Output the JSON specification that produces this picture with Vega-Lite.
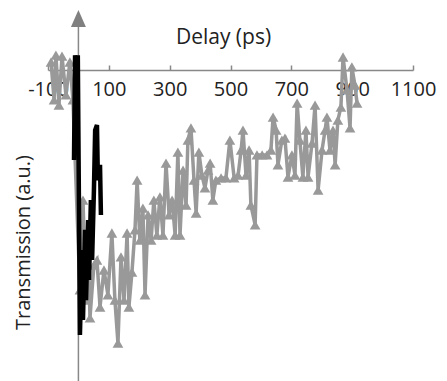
{
  "$schema": "https://vega.github.io/schema/vega-lite/v6.json",
  "width": 365,
  "height": 370,
  "autosize": "none",
  "padding": {"left": 48, "top": 11, "right": 34, "bottom": 0},
  "background": "white",
  "config": {"view": {"stroke": null}},
  "datasets": {
    "gray": [
      {"t": -90, "v": 1.026}, {"t": -80, "v": 0.904}, {"t": -74, "v": 1.048}, {"t": -64, "v": 0.887},
      {"t": -54, "v": 1.045}, {"t": -41, "v": 0.92}, {"t": -28, "v": 1.026}, {"t": -18, "v": 0.904},
      {"t": 5, "v": 0.293}, {"t": 15, "v": 0.582}, {"t": 25, "v": 0.26}, {"t": 32, "v": 0.453},
      {"t": 38, "v": 0.203}, {"t": 51, "v": 0.373}, {"t": 61, "v": 0.389}, {"t": 71, "v": 0.238},
      {"t": 84, "v": 0.357}, {"t": 97, "v": 0.277}, {"t": 110, "v": 0.476}, {"t": 120, "v": 0.26},
      {"t": 130, "v": 0.122}, {"t": 140, "v": 0.399}, {"t": 150, "v": 0.26}, {"t": 160, "v": 0.476},
      {"t": 166, "v": 0.238}, {"t": 176, "v": 0.35}, {"t": 186, "v": 0.486}, {"t": 193, "v": 0.646},
      {"t": 202, "v": 0.453}, {"t": 212, "v": 0.556}, {"t": 219, "v": 0.277}, {"t": 229, "v": 0.534},
      {"t": 239, "v": 0.453}, {"t": 248, "v": 0.582}, {"t": 258, "v": 0.469}, {"t": 268, "v": 0.592},
      {"t": 278, "v": 0.469}, {"t": 288, "v": 0.701}, {"t": 298, "v": 0.534}, {"t": 308, "v": 0.582},
      {"t": 318, "v": 0.469}, {"t": 327, "v": 0.736}, {"t": 334, "v": 0.469}, {"t": 344, "v": 0.678},
      {"t": 354, "v": 0.566}, {"t": 360, "v": 0.775}, {"t": 370, "v": 0.814}, {"t": 380, "v": 0.646},
      {"t": 387, "v": 0.54}, {"t": 396, "v": 0.736}, {"t": 406, "v": 0.662}, {"t": 416, "v": 0.621},
      {"t": 426, "v": 0.678}, {"t": 433, "v": 0.701}, {"t": 442, "v": 0.582}, {"t": 452, "v": 0.646},
      {"t": 469, "v": 0.653}, {"t": 485, "v": 0.653}, {"t": 498, "v": 0.775}, {"t": 512, "v": 0.653},
      {"t": 525, "v": 0.662}, {"t": 535, "v": 0.743}, {"t": 541, "v": 0.807}, {"t": 551, "v": 0.662},
      {"t": 561, "v": 0.743}, {"t": 567, "v": 0.566}, {"t": 581, "v": 0.502}, {"t": 587, "v": 0.727},
      {"t": 604, "v": 0.727}, {"t": 620, "v": 0.727}, {"t": 633, "v": 0.743}, {"t": 640, "v": 0.849},
      {"t": 650, "v": 0.807}, {"t": 656, "v": 0.695}, {"t": 669, "v": 0.775}, {"t": 679, "v": 0.781},
      {"t": 689, "v": 0.656}, {"t": 702, "v": 0.727}, {"t": 712, "v": 0.662}, {"t": 719, "v": 0.894},
      {"t": 728, "v": 0.775}, {"t": 738, "v": 0.656}, {"t": 748, "v": 0.807}, {"t": 755, "v": 0.656},
      {"t": 768, "v": 0.765}, {"t": 778, "v": 0.887}, {"t": 788, "v": 0.614}, {"t": 801, "v": 0.743},
      {"t": 811, "v": 0.807}, {"t": 817, "v": 0.849}, {"t": 827, "v": 0.743}, {"t": 837, "v": 0.807},
      {"t": 844, "v": 0.695}, {"t": 853, "v": 0.839}, {"t": 863, "v": 0.881}, {"t": 870, "v": 1.042},
      {"t": 883, "v": 0.936}, {"t": 893, "v": 0.814}, {"t": 899, "v": 1.01}, {"t": 909, "v": 0.952},
      {"t": 916, "v": 0.894}
    ],
    "black": [
      {"t": -14.5, "v": 0.711}, {"t": -11, "v": 1.048}, {"t": -5, "v": 0.775}, {"t": -2, "v": 1.048},
      {"t": 5, "v": 0.148}, {"t": 12, "v": 0.421}, {"t": 15, "v": 0.196}, {"t": 22, "v": 0.486},
      {"t": 25, "v": 0.26}, {"t": 32, "v": 0.518}, {"t": 35, "v": 0.325}, {"t": 41, "v": 0.582},
      {"t": 45, "v": 0.389}, {"t": 51, "v": 0.614}, {"t": 55, "v": 0.807}, {"t": 61, "v": 0.823},
      {"t": 64, "v": 0.646}, {"t": 71, "v": 0.695}, {"t": 74, "v": 0.534}
    ],
    "one": [{}]
  },
  "layer": [
    {
      "data": {"name": "one"},
      "mark": {"type": "rule", "color": "#888888", "strokeWidth": 1.5},
      "encoding": {
        "x": {"datum": 0, "type": "quantitative"},
        "y": {"datum": 0, "type": "quantitative"},
        "y2": {"datum": 1.16}
      }
    },
    {
      "data": {"name": "gray"},
      "mark": {
        "type": "line", "color": "#999999", "strokeWidth": 3.5,
        "point": {"shape": "triangle-up", "size": 115, "filled": true, "color": "#999999", "opacity": 1}
      },
      "encoding": {
        "x": {
          "field": "t", "type": "quantitative",
          "scale": {"domain": [-100, 1100], "nice": false, "zero": false},
          "axis": {
            "orient": "top", "offset": -59,
            "values": [-100, 100, 300, 500, 700, 900, 1100],
            "labelExpr": "'' + datum.value",
            "title": "Delay (ps)",
            "grid": false,
            "domainColor": "#888888", "domainWidth": 1.5,
            "tickColor": "#888888", "tickWidth": 1.5, "tickSize": 5,
            "labelPadding": -24, "labelBaseline": "middle", "labelDx": 6,
            "labelFont": "Open Sans", "labelFontSize": 20, "labelColor": "#222222",
            "labelFlush": false, "labelOverlap": false,
            "titleFont": "Open Sans", "titleFontSize": 21, "titleFontWeight": "normal", "titleColor": "#222222",
            "titleX": 175, "titleY": -33, "titleBaseline": "middle", "titleAlign": "center"
          }
        },
        "y": {
          "field": "v", "type": "quantitative",
          "scale": {"domain": [0, 1.19], "nice": false, "zero": false},
          "axis": {
            "title": "Transmission (a.u.)",
            "domain": false, "ticks": false, "labels": false, "grid": false,
            "titleFont": "Open Sans", "titleFontSize": 20, "titleFontWeight": "normal", "titleColor": "#222222",
            "titleX": -25, "titleY": 231, "titleAngle": -90, "titleBaseline": "middle", "titleAlign": "center"
          }
        }
      }
    },
    {
      "data": {"name": "black"},
      "mark": {"type": "line", "color": "#000000", "strokeWidth": 4.5},
      "encoding": {
        "x": {"field": "t", "type": "quantitative"},
        "y": {"field": "v", "type": "quantitative"}
      }
    },
    {
      "data": {"name": "one"},
      "mark": {"type": "point", "shape": "M-0.88,1L0,-1L0.88,1Z", "size": 289, "filled": true, "color": "#808080", "opacity": 1},
      "encoding": {
        "x": {"datum": 0, "type": "quantitative"},
        "y": {"datum": 1.1656, "type": "quantitative"}
      }
    }
  ]
}
